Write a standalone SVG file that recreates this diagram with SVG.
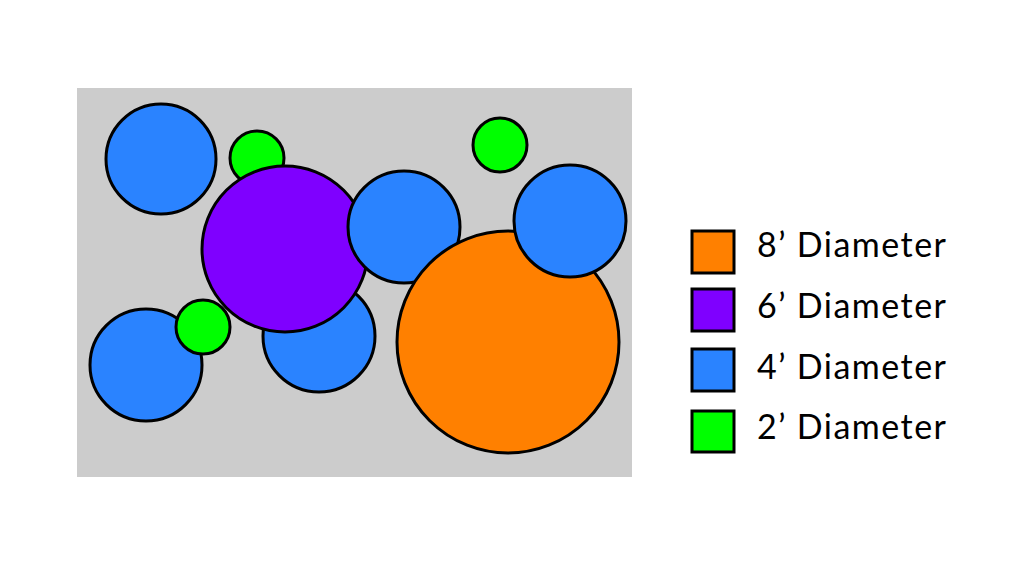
<svg xmlns="http://www.w3.org/2000/svg" width="1024" height="572" viewBox="0 0 1024 572">
<style>
circle, rect.k { stroke: #000; stroke-width: 3; }
.o { fill: #ff8000; } .p { fill: #7f00ff; } .b { fill: #2a83ff; } .g { fill: #00ff00; }
text { font-family: Lato, "Open Sans", sans-serif; font-size: 34px; fill: #000; }
</style>
<rect width="1024" height="572" fill="#fff"/>
<rect x="77" y="88" width="555" height="389" fill="#cccccc"/>
<g id="circles">
<circle class="b" cx="161" cy="159" r="55"/>
<circle class="g" cx="257" cy="158" r="27"/>
<circle class="b" cx="146" cy="365" r="56"/>
<circle class="g" cx="203" cy="327" r="27"/>
<circle class="b" cx="319" cy="336" r="56"/>
<circle class="p" cx="285" cy="249" r="83"/>
<circle class="b" cx="404" cy="227" r="56"/>
<circle class="g" cx="500" cy="145" r="27"/>
<circle class="o" cx="508" cy="342" r="111"/>
<circle class="b" cx="570" cy="221" r="56"/>
</g>
<g id="legend">
<g id="l8"><rect class="k o" x="692" y="231" width="42" height="42"/><text x="757" y="257" textLength="189" lengthAdjust="spacing">8’ Diameter</text></g>
<g id="l6"><rect class="k p" x="692" y="289" width="42" height="42"/><text x="757" y="318" textLength="189" lengthAdjust="spacing">6’ Diameter</text></g>
<g id="l4"><rect class="k b" x="692" y="349" width="42" height="42"/><text x="757" y="379" textLength="189" lengthAdjust="spacing">4’ Diameter</text></g>
<g id="l2"><rect class="k g" x="692" y="411" width="42" height="41"/><text x="757" y="439" textLength="189" lengthAdjust="spacing">2’ Diameter</text></g>
</g>
</svg>
